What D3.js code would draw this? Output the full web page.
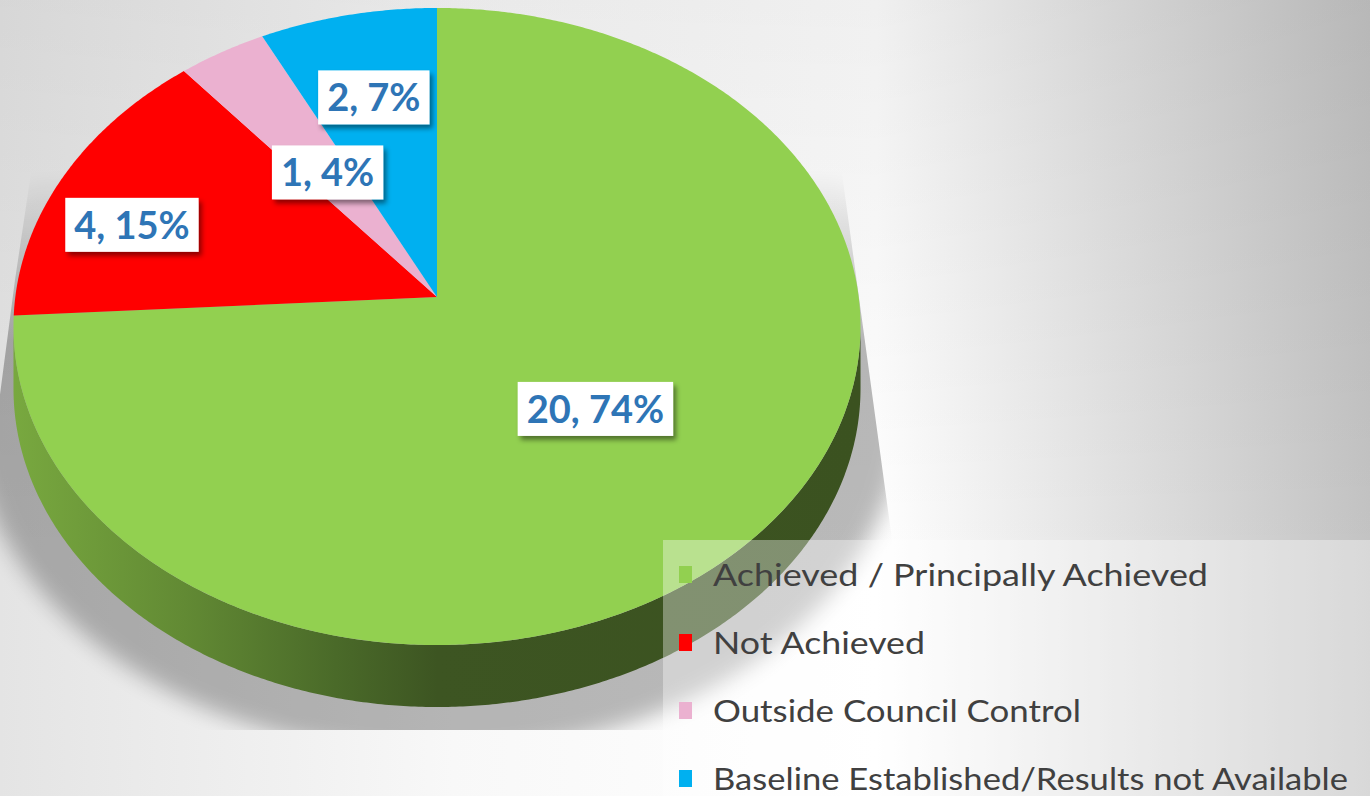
<!DOCTYPE html>
<html><head><meta charset="utf-8">
<script src="https://cdn.jsdelivr.net/npm/d3@7"></script>
<style>html,body{margin:0;padding:0;overflow:hidden;background:#fff}</style>
</head><body>
<svg id="c" width="1370" height="796"></svg>
<script>
// ---- data ----
const categories = ["Achieved / Principally Achieved", "Not Achieved", "Outside Council Control", "Baseline Established/Results not Available"];
const counts = [20, 4, 1, 2];
const colors = ["#92d050", "#ff0000", "#ebb1d0", "#00b0f0"];
// label placement (fraction of radius, angular nudge in degrees)
const labelR = [0.5, 0.775, 0.49, 0.69];
const labelShift = [0, -5.8, 0, 0];
const legendTextWidths = [495, 212, 368, 635];

// ---- geometry ----
const W = 1370, H = 796;
const CX = 437, CY = 297, RX = 421.7, RY = 315.8, K = 0.0926, DEPTH = 62;
function proj(a, r, dy) {
  const u = r * Math.sin(a), v = -r * Math.cos(a);
  const w = 1 - K * v;
  return [CX + RX * u / w, CY + RY * v / w + (dy || 0)];
}
function arcPts(a0, a1, r, dy) {
  const n = Math.max(2, Math.ceil((a1 - a0) / 0.008));
  return d3.range(n + 1).map(i => proj(a0 + (a1 - a0) * i / n, r, dy));
}
const line = d3.line();

const svg = d3.select("#c");
const defs = svg.append("defs");

// background gradients
const bg = defs.append("linearGradient").attr("id", "bg").attr("x1", 0).attr("x2", 1).attr("y1", 0).attr("y2", 0);
bg.append("stop").attr("offset", 0).attr("stop-color", "#e4e4e4");
bg.append("stop").attr("offset", 0.33).attr("stop-color", "#f8f8f8");
bg.append("stop").attr("offset", 0.64).attr("stop-color", "#ffffff");
bg.append("stop").attr("offset", 1).attr("stop-color", "#c3c3c3");
const bgv = defs.append("linearGradient").attr("id", "bgv").attr("x1", 0).attr("x2", 0).attr("y1", 0).attr("y2", 1);
bgv.append("stop").attr("offset", 0).attr("stop-color", "#000").attr("stop-opacity", 0.06);
bgv.append("stop").attr("offset", 0.7).attr("stop-color", "#000").attr("stop-opacity", 0);

// side gradient
const sg = defs.append("linearGradient").attr("id", "side").attr("gradientUnits", "userSpaceOnUse")
  .attr("x1", CX - RX).attr("x2", CX + RX).attr("y1", 0).attr("y2", 0);
sg.append("stop").attr("offset", 0).attr("stop-color", "#78a83f");
sg.append("stop").attr("offset", 0.2).attr("stop-color", "#628a34");
sg.append("stop").attr("offset", 0.38).attr("stop-color", "#4a6a29");
sg.append("stop").attr("offset", 0.5).attr("stop-color", "#3d5522");
sg.append("stop").attr("offset", 1).attr("stop-color", "#3b5220");

// shadow filters / mask
defs.append("filter").attr("id", "blur").attr("x", -0.2).attr("y", -0.2).attr("width", 1.4).attr("height", 1.4)
  .append("feGaussianBlur").attr("stdDeviation", 10);
const ds = defs.append("filter").attr("id", "ds").attr("x", -0.2).attr("y", -0.3).attr("width", 1.4).attr("height", 1.6);
ds.append("feDropShadow").attr("dx", 3).attr("dy", 4).attr("stdDeviation", 2.5)
  .attr("flood-color", "#000").attr("flood-opacity", 0.45);
const mg = defs.append("linearGradient").attr("id", "mg").attr("gradientUnits", "userSpaceOnUse")
  .attr("x1", 0).attr("x2", 0).attr("y1", 170).attr("y2", 340);
mg.append("stop").attr("offset", 0).attr("stop-color", "#000");
mg.append("stop").attr("offset", 1).attr("stop-color", "#fff");
defs.append("mask").attr("id", "shMask").attr("maskUnits", "userSpaceOnUse")
  .attr("x", -100).attr("y", 0).attr("width", 1200).attr("height", 800)
  .append("path").attr("d", "M0,100L832,100L918,730L-44,730L15,280L42,100Z").attr("fill", "url(#mg)");

svg.append("rect").attr("width", W).attr("height", H).attr("fill", "url(#bg)");
svg.append("rect").attr("width", W).attr("height", H).attr("fill", "url(#bgv)");

// ---- pie layout ----
const pie = d3.pie().sort(null).value(d => d)(counts);
const total = d3.sum(counts);
const pct = d3.format(".0%");

const aR = Math.acos(-K), aL = 2 * Math.PI - aR;

// shadow
const shG = svg.append("g").attr("mask", "url(#shMask)")
  .append("g").attr("filter", "url(#blur)").attr("opacity", 0.27)
  .attr("transform", `translate(0,10) translate(${CX},250) scale(1.1,1.08) translate(${-CX},-250)`);
shG.append("path").attr("d", line(arcPts(0, 2 * Math.PI, 1, 0)) + "Z").attr("fill", "#000");
shG.append("path").attr("d", line(arcPts(aR, aL, 1, 0).concat(arcPts(aR, aL, 1, DEPTH).reverse())) + "Z").attr("fill", "#000");

// sides
svg.append("g").selectAll("path").data(pie.filter(d => Math.max(d.startAngle, aR) < Math.min(d.endAngle, aL)))
  .join("path")
  .attr("d", d => {
    const s = Math.max(d.startAngle, aR), e = Math.min(d.endAngle, aL);
    return line(arcPts(s, e, 1, 0).concat(arcPts(s, e, 1, DEPTH).reverse())) + "Z";
  })
  .attr("fill", "url(#side)");

// top slices
svg.append("g").selectAll("path").data(pie).join("path")
  .attr("d", d => line([proj(0, 0, 0)].concat(arcPts(d.startAngle, d.endAngle, 1, 0))) + "Z")
  .attr("fill", (d, i) => colors[i]);

// labels
const lg = svg.append("g");
pie.forEach((d, i) => {
  const mid = (d.startAngle + d.endAngle) / 2 + labelShift[i] * Math.PI / 180;
  const p = proj(mid, labelR[i], 0);
  const g = lg.append("g");
  const rect = g.append("rect").attr("fill", "#fff").attr("filter", "url(#ds)");
  const t = g.append("text").attr("x", p[0]).attr("y", p[1] + 14)
    .attr("text-anchor", "middle")
    .style("font-family", "Lato, 'Open Sans', sans-serif").style("font-weight", "bold")
    .style("font-size", "38px").attr("fill", "#2e75b6")
    .text(`${counts[i]}, ${pct(counts[i] / total)}`);
  const w = t.node().getComputedTextLength();
  rect.attr("x", p[0] - w / 2 - 9).attr("y", p[1] - 27).attr("width", w + 18).attr("height", 54);
});

// legend
const leg = svg.append("g");
leg.append("rect").attr("x", 663).attr("y", 540).attr("width", 720).attr("height", 270)
  .attr("fill", "#fff").attr("fill-opacity", 0.36);
const ly = d3.scalePoint().domain(categories).range([574.5, 778.5]);
categories.forEach((c, i) => {
  leg.append("rect").attr("x", 679).attr("y", ly(c) - 8.5).attr("width", 13).attr("height", 17).attr("fill", colors[i]);
  leg.append("text").attr("x", 713).attr("y", ly(c) + 11)
    .attr("textLength", legendTextWidths[i]).attr("lengthAdjust", "spacingAndGlyphs")
    .style("font-family", "Lato, 'Open Sans', sans-serif").style("font-size", "30px")
    .attr("fill", "#404040").text(c);
});
</script>
</body></html>
